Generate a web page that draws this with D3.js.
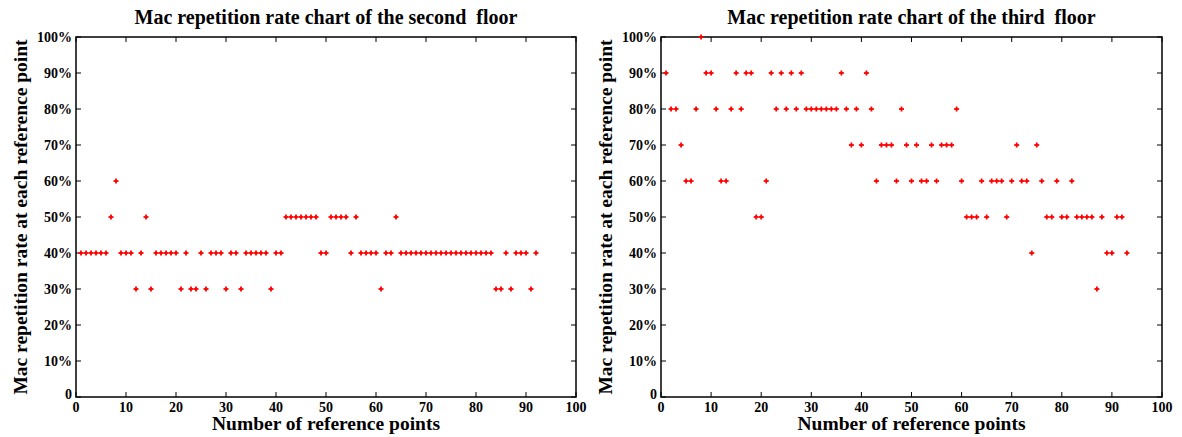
<!DOCTYPE html>
<html><head><meta charset="utf-8">
<script src="https://cdn.jsdelivr.net/npm/d3@7"></script>
<style>body{margin:0;background:#fff;} text{font-family:"Liberation Serif","Times New Roman",serif;font-weight:bold;fill:#000;white-space:pre;}</style>
</head><body>
<svg id="c" width="1182" height="437"></svg>
<script>
const secondFloorX = d3.range(1, 93);
const secondFloorValues = [40,40,40,40,40,40,50,60,40,40,40,30,40,50,30,40,40,40,40,40,30,40,30,30,40,30,40,40,40,30,40,40,30,40,40,40,40,40,30,40,40,50,50,50,50,50,50,50,40,40,50,50,50,50,40,50,40,40,40,40,30,40,40,50,40,40,40,40,40,40,40,40,40,40,40,40,40,40,40,40,40,40,40,30,30,40,30,40,40,40,30,40];
const thirdFloorX = d3.range(1, 94);
const thirdFloorValues = [90,80,80,70,60,60,80,100,90,90,80,60,60,80,90,80,90,90,50,50,60,90,80,90,80,90,80,90,80,80,80,80,80,80,80,90,80,70,80,70,90,80,60,70,70,70,60,80,70,60,70,60,60,70,60,70,70,70,80,60,50,50,50,60,50,60,60,60,50,60,70,60,60,40,70,60,50,50,60,50,50,60,50,50,50,50,30,50,40,40,50,50,40];
const xTicks = d3.range(0, 101, 10);
const yTicks = d3.range(0, 101, 10);
const titles = ["Mac repetition rate chart of the second  floor", "Mac repetition rate chart of the third  floor"];
const xLabel = "Number of reference points";
const yLabel = "Mac repetition rate at each reference point";

const svg = d3.select("#c");
const panels = [
  {x0:76, x1:576, xs:secondFloorX, ys:secondFloorValues, title:titles[0], ylabX:20},
  {x0:661, x1:1162, xs:thirdFloorX, ys:thirdFloorValues, title:titles[1], ylabX:605}
];
const yTop = 37, yBot = 397;
panels.forEach(p => {
  const x = d3.scaleLinear().domain([0,100]).range([p.x0, p.x1]);
  const y = d3.scaleLinear().domain([0,100]).range([yBot, yTop]);
  const g = svg.append("g");
  const tl = 5;
  const ax = g.append("g").attr("stroke","#000").attr("stroke-width",1);
  xTicks.forEach(t => {
    ax.append("line").attr("x1",x(t)).attr("x2",x(t)).attr("y1",yBot).attr("y2",yBot-tl);
    ax.append("line").attr("x1",x(t)).attr("x2",x(t)).attr("y1",yTop).attr("y2",yTop+tl);
  });
  yTicks.forEach(t => {
    ax.append("line").attr("x1",p.x0).attr("x2",p.x0+tl).attr("y1",y(t)).attr("y2",y(t));
    ax.append("line").attr("x1",p.x1).attr("x2",p.x1-tl).attr("y1",y(t)).attr("y2",y(t));
  });
  g.append("rect").attr("x",p.x0).attr("y",yTop).attr("width",p.x1-p.x0).attr("height",yBot-yTop)
    .attr("fill","none").attr("stroke","#000").attr("stroke-width",1.5);
  xTicks.forEach(t => {
    g.append("text").attr("x",x(t)).attr("y",yBot+15).attr("text-anchor","middle").attr("font-size",14).text(t);
  });
  yTicks.forEach(t => {
    g.append("text").attr("x",p.x0-4).attr("y",y(t)+(t===0?2:5)).attr("text-anchor","end").attr("font-size",14).text(t===0?"0":t+"%");
  });
  const m = g.append("g").attr("stroke","#ff0000").attr("stroke-width",1.8);
  p.xs.forEach((xv,i) => {
    const cx = x(xv), cy = y(p.ys[i]);
    m.append("line").attr("x1",cx-2.5).attr("x2",cx+2.5).attr("y1",cy).attr("y2",cy);
    m.append("line").attr("x1",cx).attr("x2",cx).attr("y1",cy-2.5).attr("y2",cy+2.5);
  });
  g.append("text").attr("x",(p.x0+p.x1)/2).attr("y",24).attr("text-anchor","middle").attr("font-size",20).text(p.title);
  g.append("text").attr("x",(p.x0+p.x1)/2).attr("y",430).attr("text-anchor","middle").attr("font-size",19.5).text(xLabel);
  g.append("text").attr("transform",`translate(${p.ylabX},${(yTop+yBot)/2}) rotate(-90)`).attr("dy","0.35em")
    .attr("text-anchor","middle").attr("font-size",19.5).text(yLabel);
});
</script>
</body></html>
